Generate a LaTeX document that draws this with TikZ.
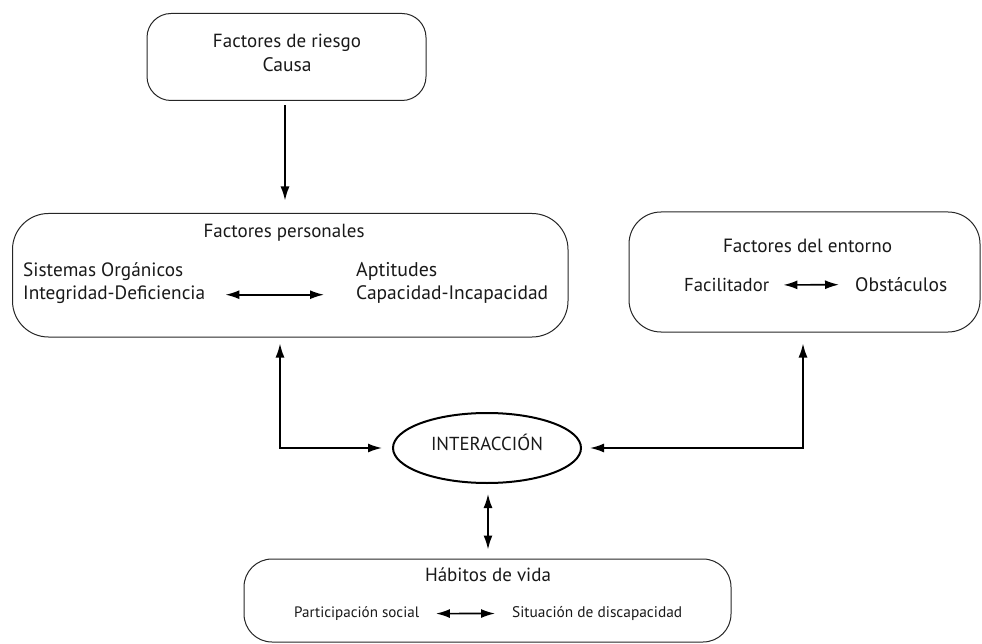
\documentclass[tikz,border=0pt]{standalone}
\usepackage{fontspec}
\setmainfont{PT Sans}
\usetikzlibrary{arrows.meta,shapes.geometric}
\newcommand\fw[2]{\resizebox{#1pt}{!}{#2}}
\begin{document}
\begin{tikzpicture}[x=1pt,y=-1pt,
  box/.style={draw=black!85,line width=1pt,rectangle,inner sep=0pt},
  txt/.style={inner sep=0pt,text=black!90,font=\fontsize{18}{20}\selectfont},
  tip/.style={Latex[length=14pt,width=9pt]},
  arr/.style={line width=1.6pt,-{Latex[length=14pt,width=9pt]}},
  darr/.style={line width=1.6pt,{Latex[length=14pt,width=9pt]}-{Latex[length=14pt,width=9pt]}}]
\useasboundingbox (0,0) rectangle (982,644);
% boxes
\node[box,rounded corners=24pt,minimum width=279pt,minimum height=87pt] (riesgo) at (286.5,57) {};
\node[box,rounded corners=36pt,minimum width=555.5pt,minimum height=123.5pt] (pers) at (290.25,275.25) {};
\node[box,rounded corners=32pt,minimum width=351pt,minimum height=120pt] (ent) at (804.5,272) {};
\node[draw,line width=2pt,ellipse,minimum width=188pt,minimum height=70pt,inner sep=0pt] (inter) at (487,448) {};
\node[box,rounded corners=28pt,minimum width=487pt,minimum height=83pt] (hab) at (487.5,600.5) {};
% texts
\node[txt,anchor=mid] (t1) at (287,45) {\fw{148}{Factores de riesgo}};
\node[txt,anchor=mid] (t2) at (287,69) {\fw{49}{Causa}};
\node[txt,anchor=mid] (t3) at (284,235) {\fw{161}{Factores personales}};
\node[txt,anchor=mid west] (t4) at (23,274) {\fw{160}{Sistemas Orgánicos}};
\node[txt,anchor=mid west] (t5) at (23,297) {\fw{182}{Integridad-Deficiencia}};
\node[txt,anchor=mid west] (t6) at (356,274) {\fw{81}{Aptitudes}};
\node[txt,anchor=mid west] (t7) at (356,297) {\fw{192}{Capacidad-Incapacidad}};
\node[txt,anchor=mid] (t8) at (807.5,250) {\fw{169}{Factores del entorno}};
\node[txt,anchor=mid west] (t9) at (684,289) {\fw{85}{Facilitador}};
\node[txt,anchor=mid west] (t10) at (855,289) {\fw{92}{Obstáculos}};
\node[txt,anchor=mid] (t11) at (487,448) {\fw{112}{INTERACCIÓN}};
\node[txt,anchor=mid] (t12) at (488,579) {\fw{126}{Hábitos de vida}};
\node[txt,anchor=mid west] (t13) at (294,615) {\fw{125}{Participación social}};
\node[txt,anchor=mid west] (t14) at (512,615) {\fw{170}{Situación de discapacidad}};
% inner arrows
\draw[darr,shorten <=20pt,shorten >=32pt] (t5.east) -- (t7.west|-t5.east);
\draw[darr,shorten <=14pt,shorten >=16pt] (t9.east) -- (t10.west);
\draw[darr,shorten <=16.5pt,shorten >=17pt] (t13.east) -- (t14.west);
% connectors
\coordinate (c1) at (280,448);
\coordinate (c2) at (803,448);
\draw[arr,shorten <=4.5pt,shorten >=12.5pt] (riesgo.south-|285,0) -- (pers.north-|285,0);
\draw[darr,shorten <=6pt,shorten >=10pt] (pers.south-|c1) -- (c1) -- (inter.west);
\draw[darr,shorten <=11pt,shorten >=8pt] (ent.south-|c2) -- (c2) -- (inter.east);
\draw[darr,shorten <=10pt,shorten >=9pt] (inter.south-|488,0) -- (hab.north-|488,0);
\end{tikzpicture}
\end{document}
